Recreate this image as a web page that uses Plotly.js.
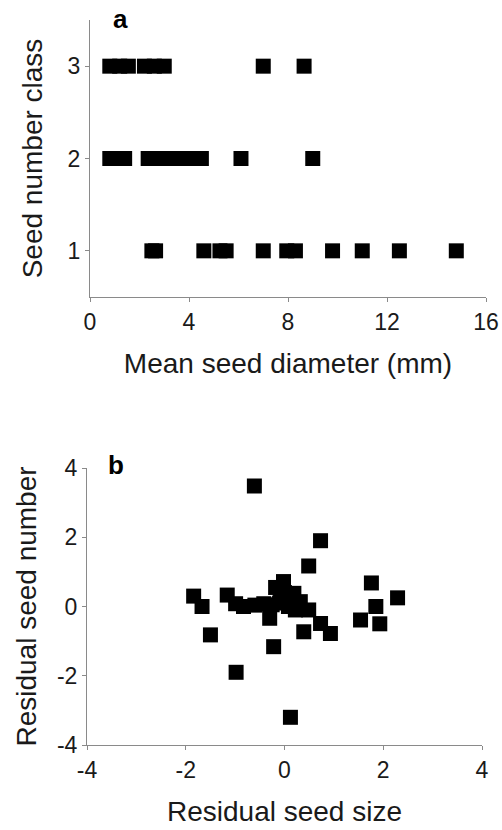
<!DOCTYPE html>
<html>
<head>
<meta charset="utf-8">
<script src="https://cdn.plot.ly/plotly-3.0.1.min.js"></script>
<style>html,body{margin:0;padding:0;background:#fff;}#chart{width:502px;height:830px;}</style>
</head>
<body>
<div id="chart"></div>
<script>
// Panel a: mean seed diameter (mm) vs seed number class
const diamClass3 = [0.8, 1.2, 1.55, 2.2, 2.6, 3.0, 7.0, 8.65];
const diamClass2 = [0.8, 1.1, 1.4, 2.35, 2.8, 3.2, 3.6, 4.0, 4.5, 6.1, 9.0];
const diamClass1 = [2.5, 2.65, 4.6, 5.25, 5.5, 7.0, 7.95, 8.3, 9.8, 11.0, 12.5, 14.8];
const classTicks = [1, 2, 3];
const diamTicks = [0, 4, 8, 12, 16];

// Panel b: residual seed size vs residual seed number
const residSize = [-0.61, 0.73, 0.49, 1.76, 2.29, 1.85, 1.54, 1.93, -1.84, -1.67,
  -1.16, -0.99, -0.83, -0.6, -0.42, -0.25, -0.3, -0.18, -0.02, -0.08,
  0.08, 0.19, 0.22, 0.32, 0.49, 0.73, 0.93, 0.39, -1.5, -0.22,
  -0.98, 0.12, 0.0, -0.1];
const residNumber = [3.48, 1.90, 1.17, 0.68, 0.25, 0.0, -0.39, -0.5, 0.30, 0.0,
  0.33, 0.08, 0.0, 0.04, 0.08, 0.05, -0.34, 0.55, 0.72, 0.25,
  0.0, 0.38, -0.1, 0.14, -0.1, -0.49, -0.78, -0.73, -0.82, -1.16,
  -1.9, -3.2, 0.4, 0.1];
const residTicks = [-4, -2, 0, 2, 4];
const residTickLabels = ['-4', '-2', '0', '2', '4'];

const classX = diamClass1.concat(diamClass2, diamClass3);
const classY = diamClass1.map(() => 1).concat(diamClass2.map(() => 2), diamClass3.map(() => 3));

const W = 502, H = 830;
const FONT = 'Arial, "Liberation Sans", sans-serif';
const mk = {symbol: 'square', size: 15, color: '#000', line: {width: 0}};

const traces = [
  {x: classX, y: classY, type: 'scatter', mode: 'markers', marker: mk, xaxis: 'x', yaxis: 'y', hoverinfo: 'x+y'},
  {x: residSize, y: residNumber, type: 'scatter', mode: 'markers', marker: mk, xaxis: 'x2', yaxis: 'y2', hoverinfo: 'x+y'}
];

const axBase = {
  showgrid: false, zeroline: false, showline: true, linecolor: '#8a8a8a', linewidth: 1,
  ticks: 'outside', ticklen: 4, tickcolor: '#8a8a8a', tickwidth: 1,
  tickfont: {family: FONT, size: 23, color: '#1a1a1a'}, automargin: false, fixedrange: true
};
const titleFont = {family: FONT, size: 28, color: '#1a1a1a'};

const layout = {
  width: W, height: H, showlegend: false,
  margin: {l: 0, r: 0, t: 0, b: 0},
  paper_bgcolor: '#fff', plot_bgcolor: '#fff',
  xaxis: Object.assign({}, axBase, {
    domain: [90 / W, 486 / W], range: [0, 16], tickvals: diamTicks,
    anchor: 'y', title: {text: 'Mean seed diameter (mm)', font: titleFont, standoff: 19}
  }),
  yaxis: Object.assign({}, axBase, {
    domain: [1 - 297 / H, 1 - 20 / H], range: [0.5, 3.5], tickvals: classTicks,
    anchor: 'x', title: {text: 'Seed number class', font: titleFont, standoff: 16}
  }),
  xaxis2: Object.assign({}, axBase, {
    domain: [87 / W, 482 / W], range: [-4, 4], tickvals: residTicks, ticktext: residTickLabels,
    anchor: 'y2', title: {text: 'Residual seed size', font: titleFont, standoff: 19}
  }),
  yaxis2: Object.assign({}, axBase, {
    domain: [1 - 745 / H, 1 - 468 / H], range: [-4, 4], tickvals: residTicks, ticktext: residTickLabels,
    anchor: 'x2', title: {text: 'Residual seed number', font: titleFont, standoff: 12}
  }),
  annotations: [
    {text: '<b>a</b>', xref: 'paper', yref: 'paper', x: 120 / W, y: 1 - 19 / H, xanchor: 'center', yanchor: 'middle', showarrow: false, font: {family: FONT, size: 26, color: '#000'}},
    {text: '<b>b</b>', xref: 'paper', yref: 'paper', x: 116 / W, y: 1 - 465 / H, xanchor: 'center', yanchor: 'middle', showarrow: false, font: {family: FONT, size: 26, color: '#000'}}
  ]
};

Plotly.newPlot('chart', traces, layout, {displayModeBar: false});
</script>
</body>
</html>
